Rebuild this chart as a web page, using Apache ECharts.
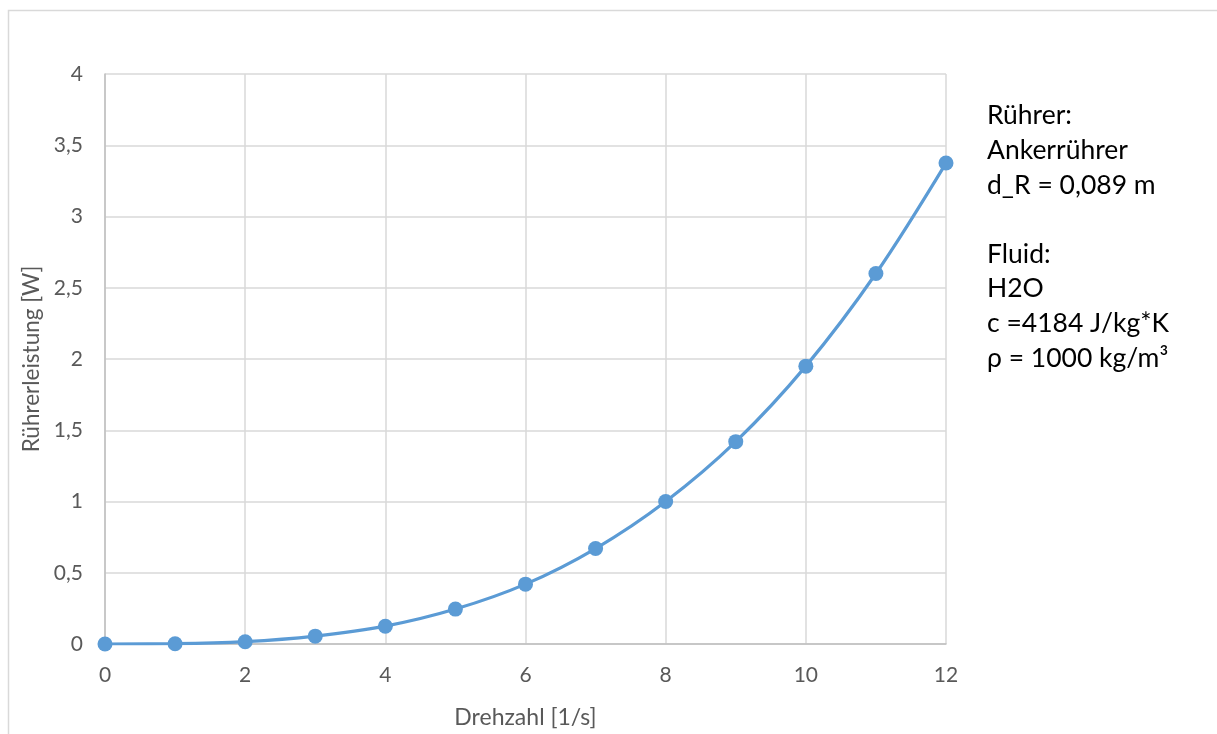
<!DOCTYPE html>
<html><head><meta charset="utf-8">
<script src="https://cdn.jsdelivr.net/npm/echarts@6/dist/echarts.min.js"></script>
<style>html,body{margin:0;padding:0;background:#fff}#c{width:1217px;height:734px}</style>
</head><body><div id="c"></div>
<script>
const drehzahl = [0,1,2,3,4,5,6,7,8,9,10,11,12];
const leistung = [0,0.002,0.016,0.055,0.125,0.245,0.42,0.67,1.0,1.42,1.95,2.6,3.375];
const yTicks = {min:0,max:4,interval:0.5};
const xTicks = {min:0,max:12,interval:2};
const infoLines = ['Rührer:','Ankerrührer','d_R = 0,089 m','','Fluid:','H2O','c =4184 J/kg*K','ρ = 1000 kg/m³'];
const fmt = v => String(v).replace('.', ',');
const chart = echarts.init(document.getElementById('c'));
const FONT = 'Lato, "Open Sans", sans-serif';
chart.setOption({
  animation:false,
  textStyle:{fontFamily:FONT},
  graphic:[
    {type:'rect',shape:{x:8.5,y:10.5,width:1300,height:800},style:{fill:'none',stroke:'#d9d9d9',lineWidth:1.5},silent:true,z:-1},
    {type:'text',left:987,top:98.5,style:{text:infoLines.join('\n'),font:'26.5px '+FONT,lineHeight:34.6,fill:'#000'}}
  ],
  grid:{left:105,right:271,top:74,bottom:89},
  xAxis:{type:'value',min:xTicks.min,max:xTicks.max,interval:xTicks.interval,
    name:'Drehzahl [1/s]',nameLocation:'middle',nameGap:62,
    nameTextStyle:{color:'#595959',fontSize:23,fontFamily:FONT},
    axisLine:{show:true,lineStyle:{color:'#bfbfbf',width:1.5}},axisTick:{show:false},
    axisLabel:{color:'#595959',fontSize:21,margin:21,formatter:fmt,fontFamily:FONT},
    splitLine:{show:true,lineStyle:{color:'#d9d9d9',width:1.5}}},
  yAxis:{type:'value',min:yTicks.min,max:yTicks.max,interval:yTicks.interval,
    name:'Rührerleistung [W]',nameLocation:'middle',nameGap:61,
    nameTextStyle:{color:'#595959',fontSize:22.5,fontFamily:FONT},
    axisLine:{show:true,lineStyle:{color:'#bfbfbf',width:1.5}},axisTick:{show:false},
    axisLabel:{color:'#595959',fontSize:21,margin:22,formatter:fmt,fontFamily:FONT},
    splitLine:{show:true,lineStyle:{color:'#d9d9d9',width:1.5}}},
  series:[{type:'line',data:drehzahl.map((x,i)=>[x,leistung[i]]),smooth:0.35,
    symbol:'circle',symbolSize:15,
    lineStyle:{color:'#5b9bd5',width:3.2},itemStyle:{color:'#5b9bd5'}}]
});
</script></body></html>
